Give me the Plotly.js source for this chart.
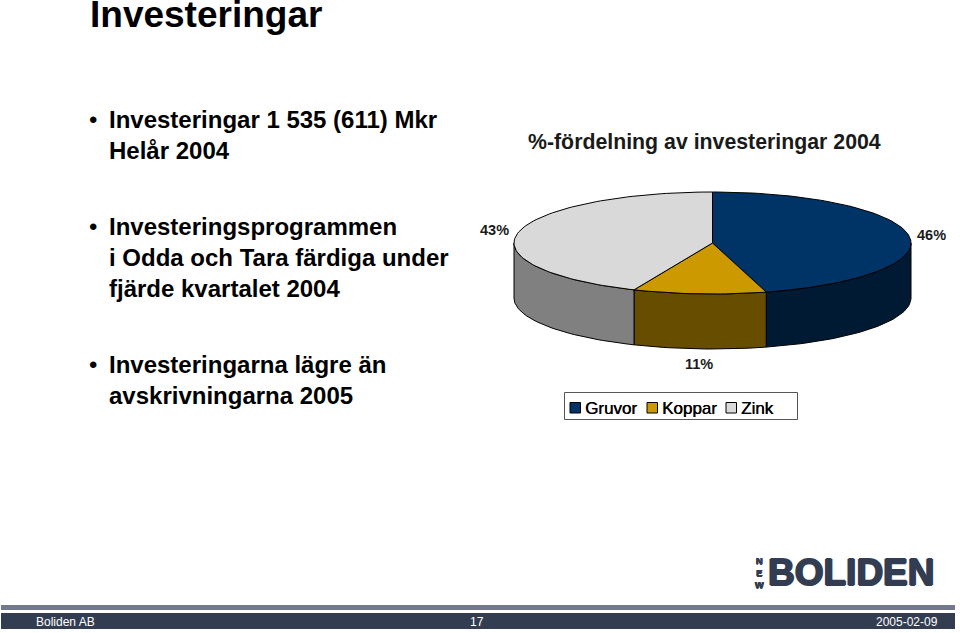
<!DOCTYPE html>
<html>
<head>
<meta charset="utf-8">
<script src="https://cdn.plot.ly/plotly-3.0.1.min.js"></script>
<style>
    html, body { margin: 0; padding: 0; background: #ffffff; }
    #chart { width: 960px; height: 633px; }
</style>
</head>
<body>
<div id="chart"></div>
<script>
const categories = ['Gruvor', 'Koppar', 'Zink'];
const shares = [45.5, 10.8, 43.4];
const topColors = ['#003366', '#cc9900', '#d9d9d9'];
const sideColors = ['#001a33', '#664d00', '#808080'];

const slideTitle = 'Investeringar';
const chartTitle = '%-fördelning av investeringar 2004';
const bullets = [
    { y: 105, text: 'Investeringar 1 535 (611) Mkr<br>Helår 2004' },
    { y: 212, text: 'Investeringsprogrammen<br>i Odda och Tara färdiga under<br>fjärde kvartalet 2004' },
    { y: 350, text: 'Investeringarna lägre än<br>avskrivningarna 2005' },
];

const FONT = '"Liberation Sans", Arial, sans-serif';
const NAVY = '#333d52';

// pie geometry in page pixels (the axes run 0-960 and 0-633)
const cx = 712.5;
const cy = 243;
const rx = 198.5;
const ry = 51;
const depth = 55;

function rimPoint(turn, drop) {
    const angle = turn * 2 * Math.PI;
    return [cx + rx * Math.sin(angle), cy - ry * Math.cos(angle) + drop];
}

function arc(from, to, drop) {
    const steps = Math.max(2, Math.ceil(Math.abs(to - from) * 240));
    const points = [];
    for (let i = 0; i <= steps; i++) {
        points.push(rimPoint(from + (to - from) * i / steps, drop));
    }
    return points;
}

function polygon(points, color) {
    return {
        type: 'scatter',
        mode: 'lines',
        x: points.map((p) => p[0]),
        y: points.map((p) => p[1]),
        fill: 'toself',
        fillcolor: color,
        line: { color: '#000000', width: 1 },
        hoverinfo: 'skip',
        showlegend: false,
    };
}

const total = shares.reduce((a, b) => a + b, 0);
const sideTraces = [];
const topTraces = [];
let start = 0;
shares.forEach((share, i) => {
    const end = start + share / total;
    // only the part of the rim between 3 and 9 o'clock faces the viewer
    const from = Math.max(start, 0.25);
    const to = Math.min(end, 0.75);
    if (to > from) {
        const wall = arc(from, to, 0).concat(arc(to, from, depth));
        wall.push(wall[0]);
        sideTraces.push(polygon(wall, sideColors[i]));
    }
    const wedge = [[cx, cy]].concat(arc(start, end, 0), [[cx, cy]]);
    topTraces.push(polygon(wedge, topColors[i]));
    start = end;
});

function label(x, y, text, size, extra) {
    return Object.assign({
        xref: 'x', yref: 'y', x, y, text,
        showarrow: false,
        xanchor: 'left',
        yanchor: 'top',
        align: 'left',
        borderpad: 0,
        font: { family: FONT, size, color: '#000000' },
    }, extra || {});
}

const annotations = [
    label(89, 14, `<b>${slideTitle}</b>`, 37, { yanchor: 'middle' }),
    label(527, 129, `<b>${chartTitle}</b>`, 21.3, { font: { family: FONT, size: 21.3, color: '#1a1a1a' } }),
];

bullets.forEach((b) => {
    annotations.push(label(88, b.y, '•', 24));
    annotations.push(label(108, b.y, `<b>${b.text}</b>`, 24));
});

const pctSpots = [[916, 226], [684, 355], [479, 221]];
shares.forEach((share, i) => {
    annotations.push(label(pctSpots[i][0], pctSpots[i][1], `<b>${Math.round(share)}%</b>`, 14.5, {
        font: { family: FONT, size: 14.5, color: '#1a1a1a' },
    }));
});

const swatchX = [570, 647, 726];
const shapes = [
    { type: 'rect', x0: 564.5, x1: 797.5, y0: 392.5, y1: 419.5, line: { color: '#555555', width: 1 }, fillcolor: '#ffffff' },
    { type: 'rect', x0: 1, x1: 955, y0: 605, y1: 610, line: { width: 0 }, fillcolor: '#72798c' },
    { type: 'rect', x0: 1, x1: 955, y0: 613, y1: 629, line: { width: 0 }, fillcolor: NAVY },
];
categories.forEach((name, i) => {
    shapes.push({
        type: 'rect',
        x0: swatchX[i], x1: swatchX[i] + 10.5, y0: 402.5, y1: 413,
        line: { color: '#000000', width: 1 },
        fillcolor: topColors[i],
    });
    annotations.push(label(swatchX[i] + 14, 398, name, 17, {
        font: { family: FONT, size: 17, color: '#000000', shadow: '0.4px 0 0 #000000' },
    }));
});

// logo
annotations.push(label(767, 551, '<b>BOLIDEN</b>', 37, {
    font: { family: FONT, size: 37, color: NAVY, shadow: `1px 0 0 ${NAVY}, -1px 0 0 ${NAVY}, 0 1px 0 ${NAVY}, 0 -1px 0 ${NAVY}` },
}));
annotations.push(label(759.5, 572.5, '<b>N<br>E<br>W</b>', 9.2, {
    xanchor: 'center',
    yanchor: 'middle',
    align: 'center',
    font: { family: FONT, size: 9.2, color: NAVY, shadow: `0.6px 0 0 ${NAVY}, -0.6px 0 0 ${NAVY}, 0 0.6px 0 ${NAVY}` },
}));

// footer
const footerFont = { family: FONT, size: 12, color: '#ffffff' };
annotations.push(label(35, 614, 'Boliden AB', 12, { font: footerFont }));
annotations.push(label(469, 614, '17', 12, { font: footerFont }));
annotations.push(label(875, 614, '2005-02-09', 12, { font: footerFont }));

Plotly.newPlot('chart', sideTraces.concat(topTraces), {
    width: 960,
    height: 633,
    margin: { t: 0, r: 0, b: 0, l: 0 },
    paper_bgcolor: '#ffffff',
    plot_bgcolor: '#ffffff',
    showlegend: false,
    xaxis: { range: [0, 960], visible: false, fixedrange: true },
    yaxis: { range: [633, 0], visible: false, fixedrange: true },
    shapes,
    annotations,
}, {
    displayModeBar: false,
});
</script>
</body>
</html>
